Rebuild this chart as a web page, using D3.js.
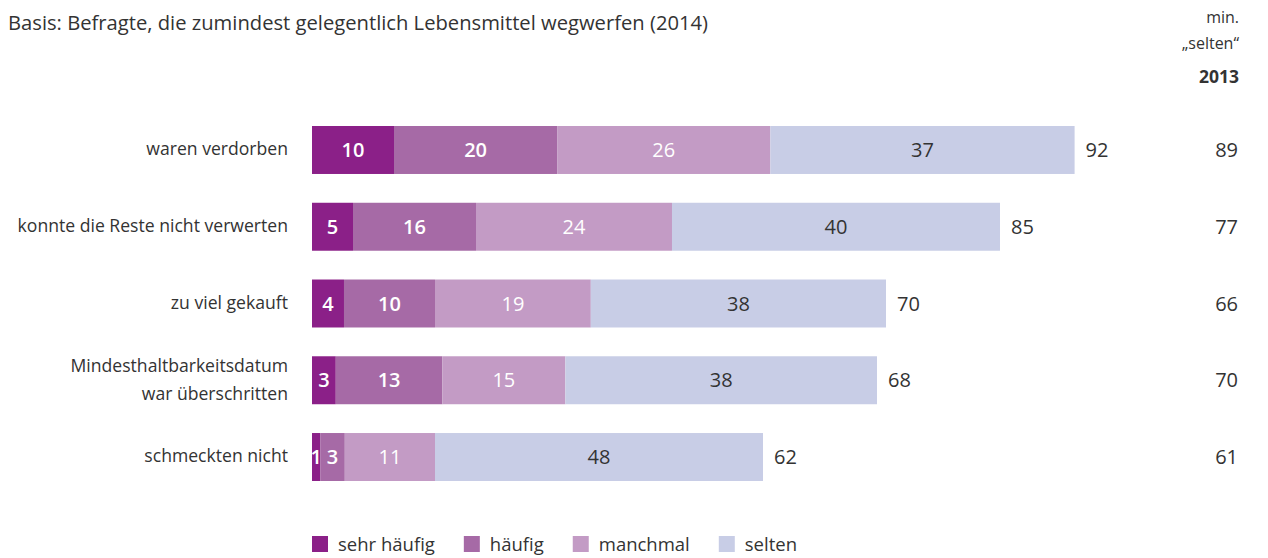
<!DOCTYPE html>
<html>
<head>
<meta charset="utf-8">
<script src="https://cdn.jsdelivr.net/npm/d3@7"></script>
<style>
  body { margin: 0; background: #fff; }
  svg text { font-family: "Open Sans", sans-serif; }
</style>
</head>
<body>
<div id="chart"></div>
<script>
// categories (rows) and their labels, split into lines
const categories = ["waren verdorben", "konnte die Reste nicht verwerten", "zu viel gekauft",
  "Mindesthaltbarkeitsdatum war überschritten", "schmeckten nicht"];
const categoryLines = [["waren verdorben"], ["konnte die Reste nicht verwerten"], ["zu viel gekauft"],
  ["Mindesthaltbarkeitsdatum", "war überschritten"], ["schmeckten nicht"]];

const seriesNames = ["sehr häufig", "häufig", "manchmal", "selten"];

// segment sizes as drawn (per row)
const sehrHaeufig = [10.0, 5.0, 3.9, 2.9, 1.0];
const haeufig     = [19.9, 15.0, 11.1, 13.0, 3.0];
const manchmal    = [26.0, 23.9, 19.0, 15.0, 11.0];
const selten      = [37.1, 40.0, 36.0, 38.0, 40.0];

// printed labels
const sehrHaeufigLabels = ["10", "5", "4", "3", "1"];
const haeufigLabels     = ["20", "16", "10", "13", "3"];
const manchmalLabels    = ["26", "24", "19", "15", "11"];
const seltenLabels      = ["37", "40", "38", "38", "48"];
const totalLabels       = ["92", "85", "70", "68", "62"];
const total2013         = ["89", "77", "66", "70", "61"];

const colors = ["#8b2088", "#a66aa6", "#c39bc5", "#c8cde6"];
const labelColors = ["#fff", "#fff", "#fff", "#333"];
const labelWeights = [600, 600, 400, 400];

const width = 1268, height = 558;

const svg = d3.select("#chart").append("svg")
  .attr("width", width)
  .attr("height", height);

const x = d3.scaleLinear().domain([0, 100]).range([312, 1132]);
const y = d3.scaleBand().domain(categories).range([126, 481]).paddingInner(0.375).paddingOuter(0);

const values = [sehrHaeufig, haeufig, manchmal, selten];
const labels = [sehrHaeufigLabels, haeufigLabels, manchmalLabels, seltenLabels];

const rows = categories.map((c, i) => {
  let acc = 0;
  const segs = values.map((arr, s) => {
    const seg = { s, x0: acc, x1: acc + arr[i], label: labels[s][i] };
    acc += arr[i];
    return seg;
  });
  return { category: c, i, segs, total: acc };
});

// title
svg.append("text")
  .attr("x", 8).attr("y", 30)
  .attr("font-size", 20.2).attr("fill", "#333")
  .text("Basis: Befragte, die zumindest gelegentlich Lebensmittel wegwerfen (2014)");

// header right
const hx = 1239;
svg.append("text").attr("x", hx).attr("y", 23).attr("text-anchor", "end")
  .attr("font-size", 16).attr("fill", "#333").text("min.");
svg.append("text").attr("x", hx).attr("y", 49).attr("text-anchor", "end")
  .attr("font-size", 16).attr("fill", "#333").text("„selten“");
svg.append("text").attr("x", hx).attr("y", 83).attr("text-anchor", "end")
  .attr("font-size", 17.5).attr("font-weight", 700).attr("fill", "#333").text("2013");

const row = svg.selectAll(".row")
  .data(rows)
  .enter().append("g")
  .attr("class", "row")
  .attr("transform", d => `translate(0,${y(d.category)})`);

const bh = y.bandwidth();

row.selectAll("rect")
  .data(d => d.segs)
  .enter().append("rect")
  .attr("x", d => x(d.x0))
  .attr("y", 0)
  .attr("width", d => x(d.x1) - x(d.x0))
  .attr("height", bh)
  .attr("fill", d => colors[d.s]);

row.selectAll(".seg-label")
  .data(d => d.segs)
  .enter().append("text")
  .attr("class", "seg-label")
  .attr("x", d => (x(d.x0) + x(d.x1)) / 2)
  .attr("y", bh / 2)
  .attr("dy", "0.36em")
  .attr("text-anchor", "middle")
  .attr("font-size", 20)
  .attr("font-weight", d => labelWeights[d.s])
  .attr("fill", d => labelColors[d.s])
  .text(d => d.label);

// totals 2014
row.append("text")
  .attr("x", d => x(d.total) + 11)
  .attr("y", bh / 2)
  .attr("dy", "0.36em")
  .attr("font-size", 20)
  .attr("fill", "#333")
  .text(d => totalLabels[d.i]);

// 2013 values
row.append("text")
  .attr("x", hx - 1)
  .attr("y", bh / 2)
  .attr("dy", "0.36em")
  .attr("text-anchor", "end")
  .attr("font-size", 20)
  .attr("fill", "#333")
  .text(d => total2013[d.i]);

// category labels
row.each(function (d) {
  const lines = categoryLines[d.i];
  const t = d3.select(this).append("text")
    .attr("text-anchor", "end")
    .attr("font-size", 17.6)
    .attr("fill", "#333");
  lines.forEach((ln, k) => {
    t.append("tspan")
      .attr("x", 288)
      .attr("y", bh / 2 - 1 + (k - (lines.length - 1) / 2) * 28)
      .attr("dy", "0.36em")
      .text(ln);
  });
});

// legend
const legend = svg.append("g").attr("transform", "translate(312,536)");
let lx = 0;
seriesNames.forEach((name, i) => {
  const g = legend.append("g").attr("transform", `translate(${lx},0)`);
  g.append("rect").attr("width", 16).attr("height", 16).attr("fill", colors[i]);
  const t = g.append("text")
    .attr("x", 26).attr("y", 8).attr("dy", "0.36em")
    .attr("font-size", 18.5).attr("fill", "#333")
    .text(name);
  lx += 26 + t.node().getComputedTextLength() + 29;
});
</script>
</body>
</html>
